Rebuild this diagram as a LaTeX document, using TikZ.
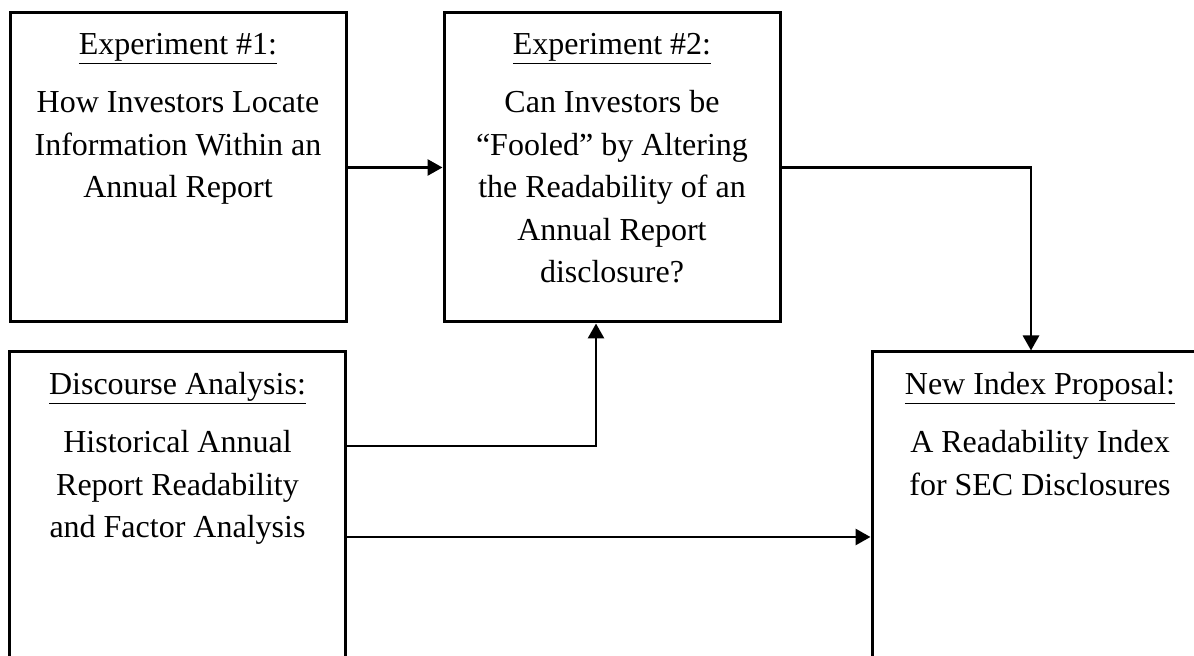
\documentclass[tikz,border=0pt]{standalone}
\usepackage{fontspec}
\setmainfont{Liberation Serif}
\usetikzlibrary{arrows.meta, positioning}

\tikzset{
  box/.style={draw, line width=1.5pt, minimum width=168pt, minimum height=154.5pt, inner sep=0pt},
  txt/.style={align=center, inner sep=0pt, font=\fontsize{16}{21.25}\selectfont},
  arr/.style={line width=1.4pt, -{Triangle[length=7.5pt, width=8pt]}}
}

\begin{document}
\begin{tikzpicture}[x=0.5pt, y=-0.5pt]
        \useasboundingbox (0,0) rectangle (1194,656);
        \node [box] (exp1) at (178,167.5) {};
        \node [box] (exp2) at (612,167.5) {};
        \node [box] (disc) at (177.5,506.5) {};
        \node [box] (prop) at (1040,506.5) {};
        \node [txt, below=10.5pt of exp1.north] (exp1txt) {\underline{Experiment \#1:}\\[8pt]How Investors Locate\\Information Within an\\Annual Report};
        \node [txt, below=10.5pt of exp2.north] (exp2txt) {\underline{Experiment \#2:}\\[8pt]Can Investors be\\“Fooled” by Altering\\the Readability of an\\Annual Report\\disclosure?};
        \node [txt, below=10.5pt of disc.north] (disctxt) {\underline{Discourse Analysis:}\\[8pt]Historical Annual\\Report Readability\\and Factor Analysis};
        \node [txt, below=10.5pt of prop.north] (proptxt) {\underline{New Index Proposal:}\\[8pt]A Readability Index\\for SEC Disclosures};
        \draw [arr] (exp1.east) -- (exp2.west);
        \draw [arr] (exp2.east) -| ([xshift=-4.5pt]prop.north);
        \draw [arr] ([yshift=30.25pt]disc.east) -| ([xshift=-8pt]exp2.south);
        \draw [arr] ([yshift=-15.25pt]disc.east) -- ([yshift=-15.25pt]prop.west);
\end{tikzpicture}
\end{document}
